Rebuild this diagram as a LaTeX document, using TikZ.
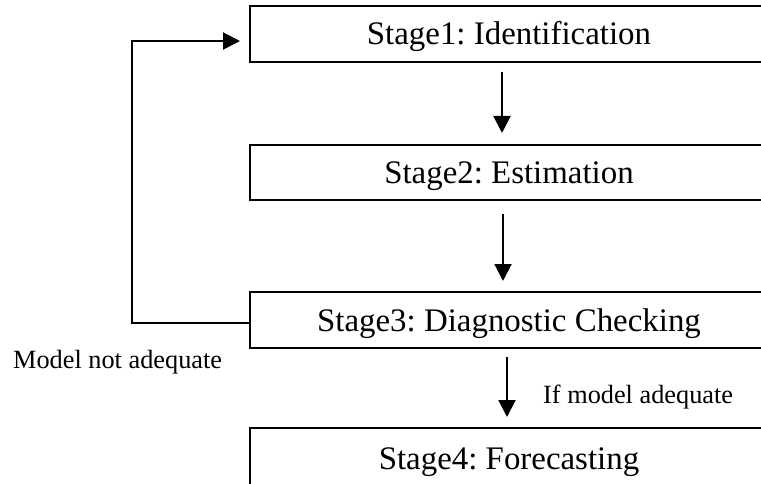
\documentclass[tikz,border=0pt]{standalone}
\usepackage{fontspec}
\setmainfont{Liberation Serif}
\usetikzlibrary{arrows.meta}
\frenchspacing
\begin{document}
\begin{tikzpicture}[x=1pt,y=-1pt,
  stagebox/.style={draw,line width=2pt,minimum width=518pt,inner sep=0pt,
    text height=26pt,text depth=4pt,
    font=\fontsize{32.9}{38}\selectfont},
  lbl/.style={inner sep=0pt,anchor=base west,font=\fontsize{26.3}{30}\selectfont},
  arr/.style={line width=2pt,-{Triangle[length=17pt,width=17pt]}}]
\useasboundingbox (0,0) rectangle (761,484);
\clip (0,0) rectangle (761,484);
\node[stagebox,minimum height=56pt] (s1) at (509,34) {Stage1: Identification};
\node[stagebox,minimum height=55pt] (s2) at (509,172.5) {Stage2: Estimation};
\node[stagebox,minimum height=56pt] (s3) at (509,320) {Stage3: Diagnostic Checking};
\node[stagebox,minimum height=60pt] (s4) at (509,458) {Stage4: Forecasting};
\node[lbl] (l1) at (13,368) {Model not adequate};
\node[lbl] (l2) at (543,403) {If model adequate};
\coordinate (a1s) at (502,72);
\coordinate (a1e) at (502,133);
\coordinate (a2s) at (503,214);
\coordinate (a2e) at (503,281);
\coordinate (a3s) at (507,357);
\coordinate (a3e) at (507,417);
\coordinate (fb) at (132,323);
\coordinate (in1) at (240,41);
\draw[arr] (a1s) -- (a1e);
\draw[arr] (a2s) -- (a2e);
\draw[arr] (a3s) -- (a3e);
\draw[arr] ([yshift=-3pt]s3.west) -- (fb) |- (in1);
\end{tikzpicture}
\end{document}
